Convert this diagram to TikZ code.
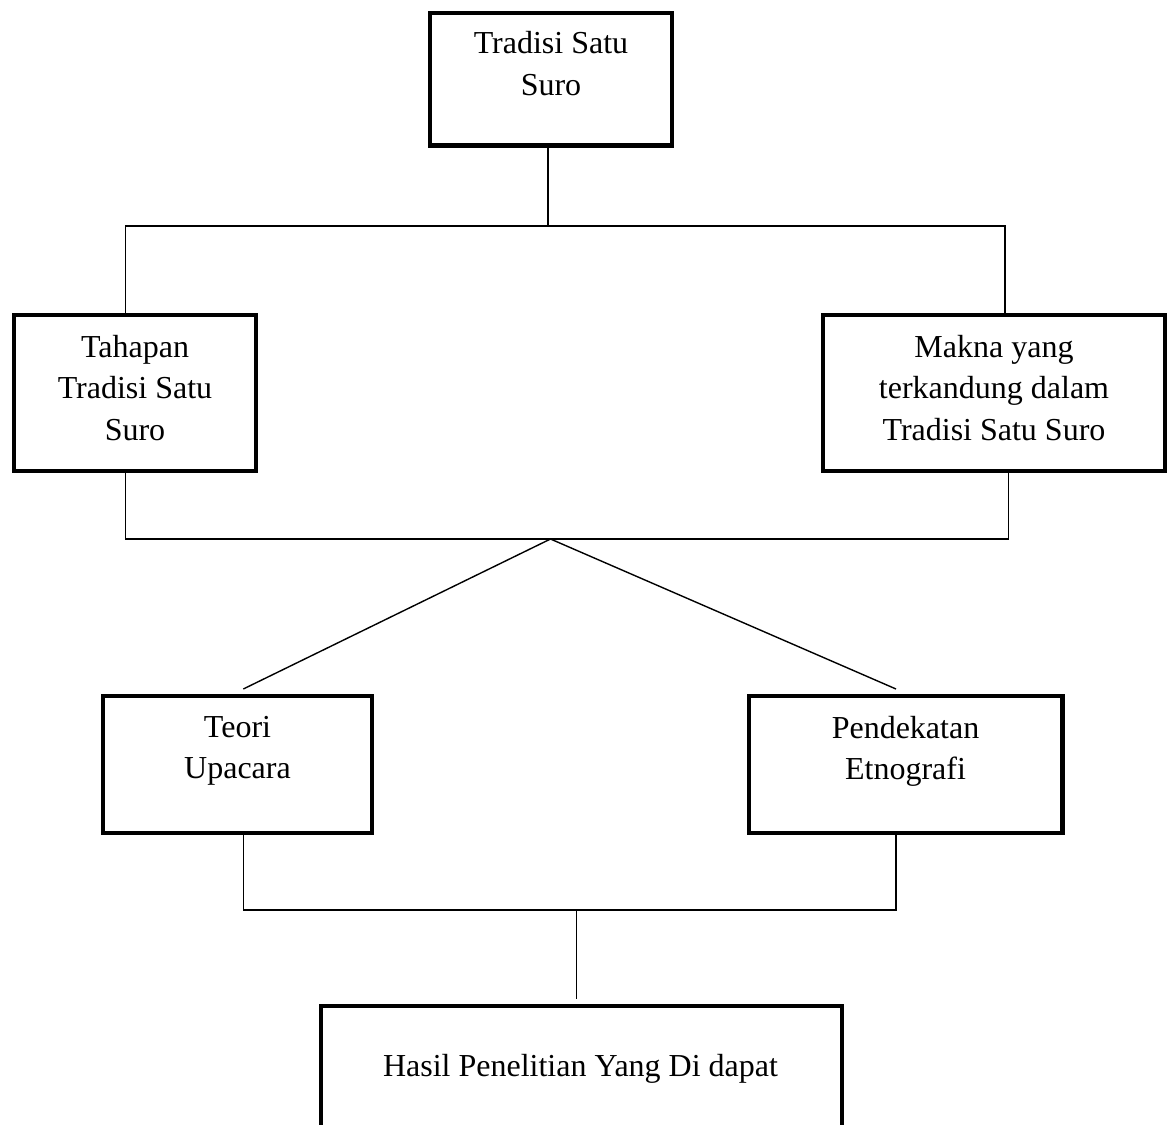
\documentclass[tikz,border=0pt]{standalone}
\usepackage{fontspec}
\setmainfont{Liberation Serif}
\begin{document}
\begin{tikzpicture}[x=1pt,y=-1pt,
  box/.style={draw, line width=4.3pt, inner sep=0pt, outer sep=0pt},
  txt/.style={inner sep=0pt, outer sep=0pt, anchor=base, font=\fontsize{32}{41.5}\selectfont},
  conn/.style={draw, line width=1.4pt}]
\clip (0,0) rectangle (1169,1124);
\fill[white] (0,0) rectangle (1169,1124);
% boxes
\node[box, minimum width=242pt, minimum height=132.5pt] (t) at (551,79.25) {};
\node[box, minimum width=242pt, minimum height=156pt] (l) at (135,393) {};
\node[box, minimum width=342pt, minimum height=156pt] (r) at (994,393) {};
\node[box, minimum width=269pt, minimum height=137pt] (a) at (237.5,764.5) {};
\node[box, minimum width=313.5pt, minimum height=137pt] (b) at (905.75,764.5) {};
\node[box, minimum width=521pt, minimum height=154pt] (h) at (581.5,1083) {};
% texts
\node[txt] (tt) at (551,54) {\begin{tabular}[t]{@{}c@{}}Tradisi Satu\\Suro\end{tabular}};
\node[txt] (lt) at (135,357) {\begin{tabular}[t]{@{}c@{}}Tahapan\\Tradisi Satu\\Suro\end{tabular}};
\node[txt] (rt) at (994,357) {\begin{tabular}[t]{@{}c@{}}Makna yang\\terkandung dalam\\Tradisi Satu Suro\end{tabular}};
\node[txt] (at) at (237.5,737) {\begin{tabular}[t]{@{}c@{}}Teori\\Upacara\end{tabular}};
\node[txt] (bt) at (905.5,738) {\begin{tabular}[t]{@{}c@{}}Pendekatan\\Etnografi\end{tabular}};
\node[txt] (ht) at (580.5,1076) {Hasil Penelitian Yang Di dapat};
% junction coordinates
\coordinate (j1) at (548,226);
\coordinate (hl) at (125.5,226);
\coordinate (hr) at (1005,226);
\coordinate (bl) at (125.5,539);
\coordinate (br) at (1008.5,539);
\coordinate (apex) at (550.5,539);
\coordinate (dl) at (243.3,689);
\coordinate (dr) at (896,689);
\coordinate (ll) at (243.3,910);
\coordinate (lr) at (896,910);
\coordinate (m) at (576.5,910);
\coordinate (mend) at (576.5,999);
% connectors
\draw[conn] (t.south -| j1) -- (j1);
\draw[conn] (l.north -| hl) -- (hl) -- (hr) -- (r.north -| hr);
\draw[conn] (l.south -| bl) -- (bl) -- (br) -- (r.south -| br);
\draw[conn] (dl) -- (apex) -- (dr);
\draw[conn] (a.south -| ll) -- (ll) -- (lr) -- (b.south -| lr);
\draw[conn] (m) -- (mend);
\end{tikzpicture}
\end{document}
